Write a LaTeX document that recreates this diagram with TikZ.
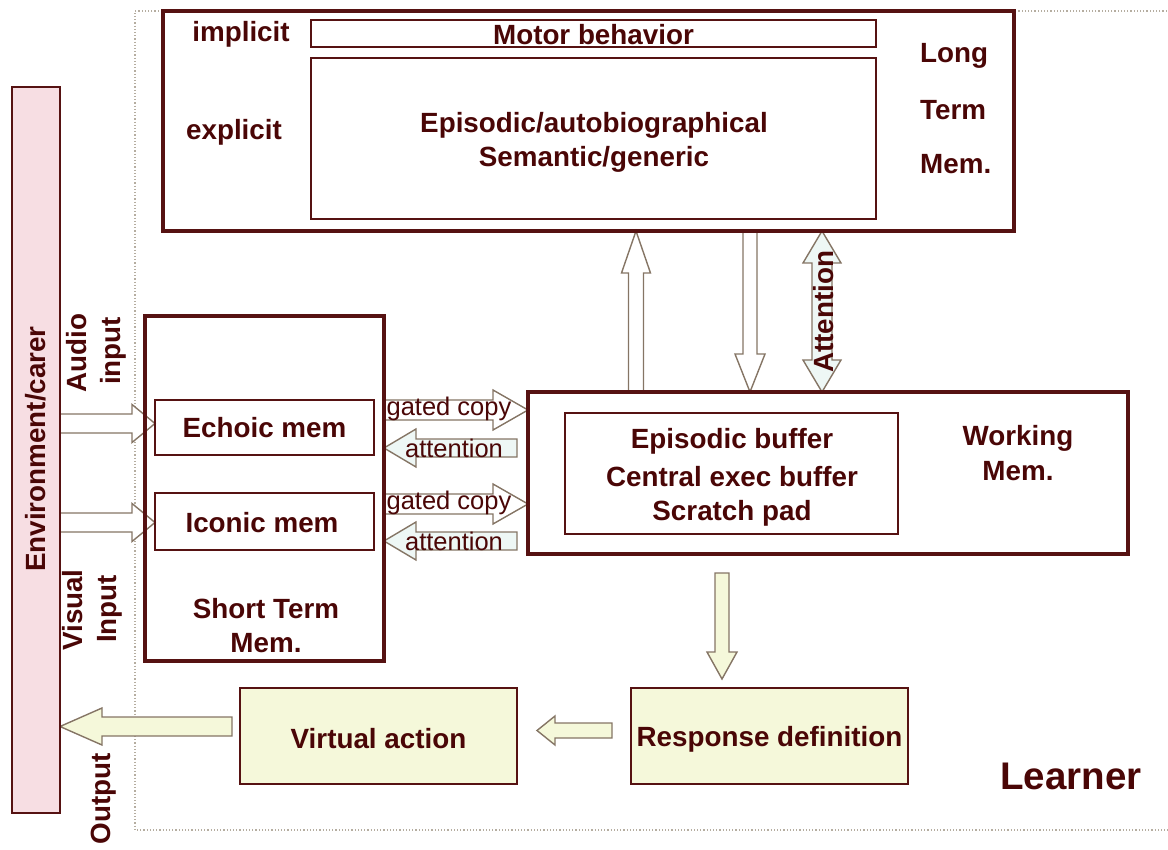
\documentclass[tikz,border=0pt]{standalone}
\usepackage{fontspec}
\setmainfont{Liberation Sans}
\usetikzlibrary{calc}

\definecolor{ink}{HTML}{4A0606}
\definecolor{frame}{HTML}{561212}
\definecolor{arrowline}{HTML}{857565}
\definecolor{pinkfill}{HTML}{F7DEE3}
\definecolor{creamfill}{HTML}{F5F8DA}
\definecolor{icefill}{HTML}{EEF7F5}
\definecolor{dotline}{HTML}{B5ADA0}

\pgfdeclarelayer{under}
\pgfsetlayers{under,main}

% block arrow: [style]{from}{to}{shaft half width}{head half width}{head length}
\newcommand\blockarrow[6][]{%
  \coordinate (ba-h) at ($(#3)!#6!(#2)$);
  \draw[#1] ($(#2)!#4!90:(#3)$) -- ($(ba-h)!#4!90:(#3)$) -- ($(ba-h)!#5!90:(#3)$)
    -- (#3) -- ($(ba-h)!#5!-90:(#3)$) -- ($(ba-h)!#4!-90:(#3)$)
    -- ($(#2)!#4!-90:(#3)$) -- cycle;}

% two-headed block arrow, same arguments
\newcommand\twinarrow[6][]{%
  \coordinate (ta-h1) at ($(#2)!#6!(#3)$);
  \coordinate (ta-h2) at ($(#3)!#6!(#2)$);
  \draw[#1] (#2) -- ($(ta-h1)!#5!90:(#3)$) -- ($(ta-h1)!#4!90:(#3)$)
    -- ($(ta-h2)!#4!90:(#3)$) -- ($(ta-h2)!#5!90:(#3)$) -- (#3)
    -- ($(ta-h2)!#5!-90:(#3)$) -- ($(ta-h2)!#4!-90:(#3)$)
    -- ($(ta-h1)!#4!-90:(#3)$) -- ($(ta-h1)!#5!-90:(#3)$) -- cycle;}

\begin{document}
\begin{tikzpicture}[x=1pt,y=-1pt,
  bigbox/.style={draw=frame, line width=3.2pt, inner sep=0, outer sep=0},
  smallbox/.style={draw=frame, line width=1.6pt, inner sep=0, outer sep=0},
  lbl/.style={text=ink, font=\fontsize{27.8}{32}\selectfont\bfseries, inner sep=0},
  lightlbl/.style={text=ink, font=\fontsize{25.5}{29}\selectfont, inner sep=0},
  sidelbl/.style={lbl, rotate=90},
  hollow/.style={draw=arrowline, line width=1.4pt, fill=white, line join=miter},
  icy/.style={hollow, fill=icefill},
  cream/.style={hollow, fill=creamfill},
]
\useasboundingbox (0,0) rectangle (1168,850);

% learner boundary
\begin{pgfonlayer}{under}
\draw[dotline, line width=1.2pt, dotted] (1170,11) -- (135,11) -- (135,830) -- (1170,830);
\end{pgfonlayer}

% environment bar
\node[draw=frame, line width=1.8pt, fill=pinkfill, minimum width=48, minimum height=726,
      inner sep=0, outer sep=0] (env) at (36,450) {};
\node[sidelbl] (envlbl) at (36,449) {Environment/carer};

% long term memory
\node[bigbox, minimum width=851, minimum height=220] (ltm) at (588.5,121) {};
\node[smallbox, minimum width=565, minimum height=27] (motor) at (593.5,33.5) {};
\node[smallbox, minimum width=565, minimum height=161] (expl) at (593.5,138.5) {};
\node[lbl] (motorlbl) at (593.5,35) {Motor behavior};
\node[lbl] (epi) at (594,125) {Episodic/autobiographical};
\node[lbl] (sem) at (594,159) {Semantic/generic};
\node[lbl] (impl) at (241,34) {implicit};
\node[lbl] (expllbl) at (234,132) {explicit};
\node[lbl, anchor=west] (ltm1) at (920,56) {Long};
\node[lbl, anchor=west] (ltm2) at (920,110) {Term};
\node[lbl, anchor=west] (ltm3) at (920,164) {Mem.};

% short term memory
\node[bigbox, minimum width=239, minimum height=345] (stm) at (264.5,488.5) {};
\node[smallbox, minimum width=219, minimum height=55] (echoic) at (264.5,427.5) {};
\node[smallbox, minimum width=219, minimum height=57] (iconic) at (264.5,521.5) {};
\node[lbl] (echoiclbl) at (264.5,428) {Echoic mem};
\node[lbl] (iconiclbl) at (262,523) {Iconic mem};
\node[lbl] (stm1) at (266,609) {Short Term};
\node[lbl] (stm2) at (266,643) {Mem.};

% working memory
\node[bigbox, minimum width=600, minimum height=162] (wm) at (828,473) {};
\node[smallbox, minimum width=333, minimum height=121] (wmin) at (731.5,473.5) {};
\node[lbl] (wm1) at (732,441) {Episodic buffer};
\node[lbl] (wm2) at (732,477) {Central exec buffer};
\node[lbl] (wm3) at (732,513) {Scratch pad};
\node[lbl] (wmlbl1) at (1018,438) {Working};
\node[lbl] (wmlbl2) at (1018,471) {Mem.};

% response and action
\node[smallbox, line width=1.8pt, fill=creamfill, minimum width=277, minimum height=96] (resp) at (769.5,736) {};
\node[smallbox, line width=1.8pt, fill=creamfill, minimum width=277, minimum height=96] (virt) at (378.5,736) {};
\node[lbl] (resplbl) at (769.5,739) {Response definition};
\node[lbl] (virtlbl) at (378.5,739) {Virtual action};

\node[text=ink, font=\fontsize{38.5}{42}\selectfont\bfseries, inner sep=0] (learner) at (1071,776) {Learner};

% side labels
\node[sidelbl] (audio) at (77,353) {Audio};
\node[sidelbl] (audioin) at (113,351) {input};
\node[sidelbl] (visual) at (73,610) {Visual};
\node[sidelbl] (visualin) at (110,609) {Input};
\node[sidelbl] (outlbl) at (104,799) {Output};

% guide columns and rows for the arrows
\coordinate (colUp) at (636,0);
\coordinate (colDown) at (750,0);
\coordinate (colAtt) at (822,0);
\coordinate (rowGate1) at (0,410);
\coordinate (rowAtt1) at (0,448);
\coordinate (rowGate2) at (0,504);
\coordinate (rowAtt2) at (0,541);
\coordinate (rowAudio) at (0,423.5);
\coordinate (rowVisual) at (0,522.5);
\coordinate (rowOut) at (0,726.5);

\coordinate (att1tail) at (517,448);
\coordinate (att2tail) at (517,541);
\coordinate (decTail) at (722,573);
\coordinate (decTip) at (722,679);
\coordinate (actTail) at (612,730.5);
\coordinate (actTip) at (537,730.5);
\coordinate (outTail) at (232,726.5);

\begin{pgfonlayer}{under}
% long term <-> working
\blockarrow[hollow]{colUp |- wm.north}{colUp |- ltm.south}{7.5pt}{14.5pt}{42pt}
\blockarrow[hollow]{colDown |- ltm.south}{colDown |- wm.north}{7pt}{15pt}{38pt}
\twinarrow[icy]{colAtt |- ltm.south}{colAtt |- wm.north}{10pt}{19pt}{32pt}

% short term <-> working
\blockarrow[hollow]{stm.east |- rowGate1}{wm.west |- rowGate1}{10pt}{20pt}{35pt}
\blockarrow[icy]{att1tail}{stm.east |- rowAtt1}{9pt}{19pt}{32pt}
\blockarrow[hollow]{stm.east |- rowGate2}{wm.west |- rowGate2}{10pt}{20pt}{35pt}
\blockarrow[icy]{att2tail}{stm.east |- rowAtt2}{9pt}{19pt}{32pt}

% sensory input
\blockarrow[hollow]{env.east |- rowAudio}{echoic.west |- rowAudio}{9.5pt}{19pt}{23pt}
\blockarrow[hollow]{env.east |- rowVisual}{iconic.west |- rowVisual}{9.5pt}{19pt}{23pt}

% decision and output path
\blockarrow[cream]{decTail}{decTip}{7pt}{15pt}{27pt}
\blockarrow[cream]{actTail}{actTip}{7.5pt}{14.5pt}{18pt}
\blockarrow[cream]{outTail}{env.east |- rowOut}{9.5pt}{18.5pt}{42pt}
\end{pgfonlayer}

\node[sidelbl] (attlbl) at (824,312) {Attention};
\node[lightlbl] (gate1) at (449,409) {gated copy};
\node[lightlbl] (attn1) at (454,448) {attention};
\node[lightlbl] (gate2) at (449,503) {gated copy};
\node[lightlbl] (attn2) at (454,541) {attention};
\end{tikzpicture}
\end{document}
